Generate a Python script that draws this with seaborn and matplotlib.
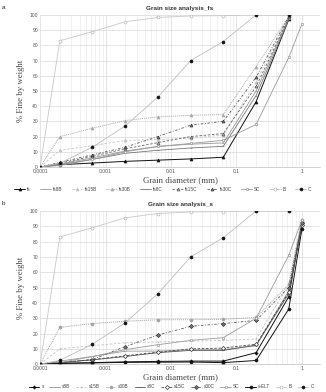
import numpy as np
import pandas as pd
import matplotlib
matplotlib.use("Agg")
import matplotlib.pyplot as plt
import seaborn as sns
from matplotlib.ticker import FixedLocator, NullFormatter, LogLocator

sns.set_theme(style="white")
plt.rcParams['font.family'] = ['Liberation Sans', 'DejaVu Sans']

# ---------------- data: panel a (fs) ----------------
x_fs = [0.0001, 0.0002, 0.00063, 0.002, 0.0063, 0.02, 0.063, 0.2, 0.63]
x_sc = [0.0001, 0.0002, 0.00063, 0.002, 0.0063, 0.02, 0.063, 0.2, 0.63, 1.0]
fs    = [0, 1.5, 2.6, 3.7, 4.5, 5.3, 6.4, 43, 97]
fs8B  = [0, 2, 6, 10.5, 13.5, 15, 15.8, 50, 98]
fs15B = [0, 11, 14, 17.5, 18, 19, 21, 56, 99]
fs30B = [0, 20, 25.5, 30.5, 33, 34, 34.5, 66, 99]
fs8C  = [0, 1.5, 5, 9, 11, 12.5, 13.6, 47, 97]
fs15C = [0, 2.5, 7, 12, 16, 20, 22, 53, 98]
fs30C = [0, 3, 8, 13, 20, 27.5, 30, 59, 99]
SC_a  = [0, 1, 5, 10, 13.5, 15.5, 17.5, 28, 72, 94]
B     = [0, 83, 89, 95.5, 98.3, 99.3, 99.5, 100, 100]
C     = [0, 2.5, 13, 27, 46, 70, 82.5, 100, 100]

# ---------------- data: panel b (s) ----------------
x_s = [0.0001, 0.0002, 0.00063, 0.002, 0.0063, 0.02, 0.063, 0.2, 0.63, 1.0]
s     = [0, 0.5, 1, 1.5, 1.8, 2, 2, 7.5, 44, 93]
s8B   = [0, 2, 5, 8.5, 8.5, 9.4, 9.5, 12, 48, 92]
s15B  = [0, 10, 12, 14, 14.5, 15, 15.5, 16.5, 52, 95]
s30B  = [0, 24, 26.5, 28, 29, 29, 29.3, 30.5, 52, 94]
s8C   = [0, 1, 2.8, 5, 7.5, 9, 9, 12.4, 46, 91]
s15C  = [0, 1, 3, 5.5, 7.8, 10, 10.5, 13, 47, 91]
s30C  = [0, 1, 3, 11.5, 19, 24.7, 26.5, 28.6, 50, 92]
SC_b  = [0, 1, 5, 9.5, 12.7, 15.5, 17.3, 30, 71, 94]
sELT  = [0, 0.5, 0.8, 1.2, 1.3, 1.4, 1, 2.4, 36, 88]

x_ticks = [0.0001, 0.001, 0.01, 0.1, 1]
x_tick_labels = ["0.0001", "0.001", "0.01", "0.1", "1"]
y_ticks = [0, 10, 20, 30, 40, 50, 60, 70, 80, 90, 100]

# style specs: (label, x, y, color, linestyle, marker, mfc, mec, lw)
series_a = [
    ("fs",    x_fs, fs,    "#111111", "-",  "^", "#111111", "#111111", 0.7),
    ("fs8B",  x_fs, fs8B,  "#999999", "-",  "_", "#999999", "#999999", 0.6),
    ("fs15B", x_fs, fs15B, "#c4c4c4", (0, (3, 2)), "^", "#c4c4c4", "#c4c4c4", 0.6),
    ("fs30B", x_fs, fs30B, "#a8a8a8", (0, (1, 1)), "^", "#a8a8a8", "#a8a8a8", 0.7),
    ("fs8C",  x_fs, fs8C,  "#777777", "-",  "_", "#777777", "#777777", 0.6),
    ("fs15C", x_fs, fs15C, "#666666", (0, (3, 2)), "^", "#bbbbbb", "#555555", 0.6),
    ("fs30C", x_fs, fs30C, "#555555", (0, (3, 2, 1, 2)), "^", "#777777", "#333333", 0.6),
    ("SC",    x_sc, SC_a,  "#9a9a9a", "-",  "s", "white", "#9a9a9a", 0.6),
    ("B",     x_fs, B,     "#c8c8c8", "-",  "o", "white", "#b8b8b8", 0.6),
    ("C",     x_fs, C,     "#bdbdbd", "-",  "o", "#111111", "#111111", 0.6),
]
series_b = [
    ("s",     x_s, s,     "#111111", "-",  "P", "#111111", "#111111", 0.7),
    ("s8B",   x_s, s8B,   "#999999", "-",  "_", "#999999", "#999999", 0.6),
    ("s15B",  x_s, s15B,  "#c4c4c4", (0, (3, 2)), "+", "#c4c4c4", "#c4c4c4", 0.6),
    ("s30B",  x_s, s30B,  "#a0a0a0", (0, (1, 1)), "o", "#a0a0a0", "#a0a0a0", 0.7),
    ("s8C",   x_s, s8C,   "#555555", "-",  "_", "#555555", "#555555", 0.6),
    ("s15C",  x_s, s15C,  "#444444", (0, (3, 2)), "D", "white", "#333333", 0.6),
    ("s30C",  x_s, s30C,  "#555555", (0, (3, 2, 1, 2)), "D", "#777777", "#333333", 0.6),
    ("SC",    x_s, SC_b,  "#9a9a9a", "-",  "s", "white", "#9a9a9a", 0.6),
    ("s-ELT", x_s, sELT,  "#111111", "-",  "o", "#111111", "#111111", 0.7),
    ("B",     x_fs, B,    "#c8c8c8", "-",  "o", "white", "#b8b8b8", 0.6),
    ("C",     x_fs, C,    "#bdbdbd", "-",  "o", "#111111", "#111111", 0.6),
]

fig = plt.figure(figsize=(3.26, 3.92), dpi=100)
ax_a = fig.add_axes([0.123, 0.574, 0.859, 0.388])
ax_b = fig.add_axes([0.123, 0.071, 0.859, 0.391])


def draw(ax, series, title, ncol, leg_x, leg_y, colsp):
    for (lab, xs, ys, col, ls, mk, mfc, mec, lw) in series:
        df = pd.DataFrame({"x": xs, "y": ys})
        sns.lineplot(data=df, x="x", y="y", ax=ax, color=col, linestyle=ls,
                     linewidth=lw, marker=mk, markersize=2.1,
                     markerfacecolor=mfc, markeredgecolor=mec,
                     markeredgewidth=0.5, label=lab, sort=True,
                     estimator=None, legend=False)
    ax.set_xscale("log")
    ax.set_xlim(0.0001, 1.9)
    ax.set_ylim(0, 100)
    ax.xaxis.set_major_locator(FixedLocator(x_ticks))
    ax.set_xticklabels(x_tick_labels)
    ax.xaxis.set_minor_locator(LogLocator(base=10, subs=np.arange(2, 10)))
    ax.xaxis.set_minor_formatter(NullFormatter())
    ax.set_yticks(y_ticks)
    ax.set_yticklabels([str(v) for v in y_ticks])
    ax.grid(True, which="major", axis="both", color="#d9d9d9", linewidth=0.5)
    ax.grid(True, which="minor", axis="x", color="#e6e6e6", linewidth=0.4)
    ax.set_axisbelow(True)
    for sp in ["top", "right", "left"]:
        ax.spines[sp].set_visible(False)
    ax.spines["bottom"].set_color("#bfbfbf")
    ax.spines["bottom"].set_linewidth(0.5)
    ax.tick_params(axis="both", which="both", length=0, labelsize=3.6,
                   labelcolor="#555555", pad=1.5)
    ax.set_title(title, fontsize=4.6, fontweight="bold", pad=3.5,
                 color="#333333")
    ax.set_xlabel("Grain diameter (mm)", family="Liberation Serif",
                  fontsize=6.3, color="#444444", labelpad=1.5)
    ax.set_ylabel("% Fine by weight", family="Liberation Serif",
                  fontsize=6.3, color="#444444", labelpad=3)
    h, l = ax.get_legend_handles_labels()
    fig.legend(h, l, loc="center", bbox_to_anchor=(leg_x, leg_y), ncol=ncol,
               frameon=False, fontsize=3.4, handlelength=2.2,
               handletextpad=0.5, columnspacing=colsp, borderaxespad=0,
               labelcolor="#444444")


draw(ax_a, series_a, "Grain size analysis_fs", 10, 0.5, 1 - 189.5 / 392, 2.0)
draw(ax_b, series_b, "Grain size analysis_s", 11, 0.525, 1 - 387 / 392, 1.2)

fig.text(0.005, 0.988, "a", fontsize=4.5, va="top", ha="left")
fig.text(0.005, 0.488, "b", fontsize=4.5, va="top", ha="left")

fig.savefig("out.png", dpi=100)
